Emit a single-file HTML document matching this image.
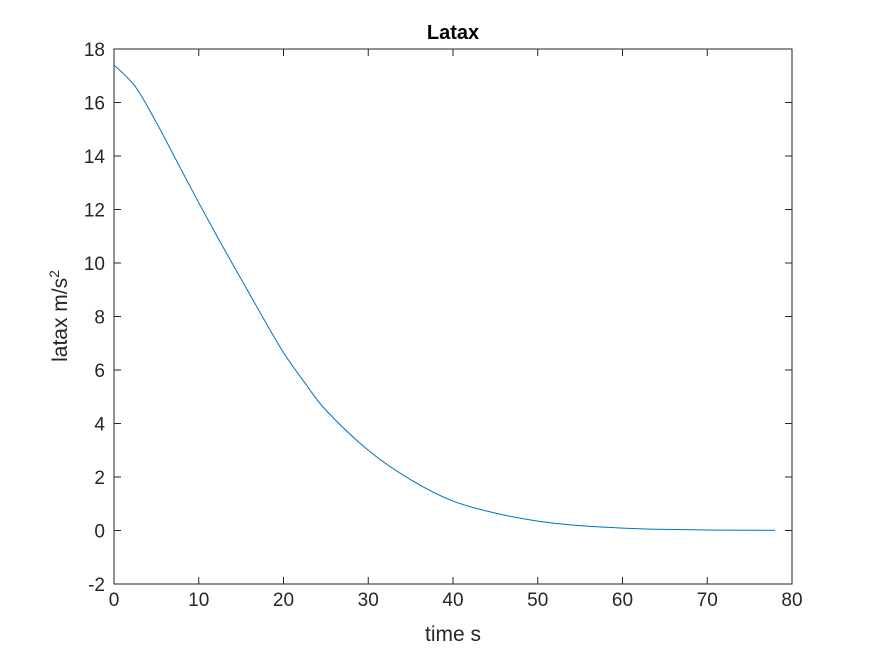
<!DOCTYPE html>
<html><head><meta charset="utf-8"><style>
body{margin:0;background:#fff;}
svg{display:block;font-family:"Liberation Sans","DejaVu Sans",sans-serif;}
</style></head><body>
<svg id="chart" width="875" height="656">
<rect x="0" y="0" width="875" height="656" fill="#fff"/>
<g id="g"></g>
</svg>
<script>
const times=[0,2.5,5,7.5,10,12.5,15,17.5,20,22.5,25,30,35,40,45,50,55,60,65,70,75,78];
const latax=[17.4,16.6,15.25,13.75,12.25,10.8,9.4,8.0,6.65,5.53,4.5,3.0,1.9,1.1,0.65,0.35,0.18,0.09,0.04,0.02,0.01,0.005];
const xTicks=[0,10,20,30,40,50,60,70,80];
const yTicks=[-2,0,2,4,6,8,10,12,14,16,18];
const L=114,R=792,T=49,B=584;
const sx=v=>L+(v-0)/(80-0)*(R-L);
const sy=v=>B-(v+2)/(20)*(B-T);
const ns="http://www.w3.org/2000/svg";
const g=document.getElementById('g');
function mk(t,a){const e=document.createElementNS(ns,t);for(const k in a)e.setAttribute(k,a[k]);g.appendChild(e);return e;}
let e=mk('rect',{x:L,y:T,width:R-L,height:B-T,fill:'#fff',stroke:'#262626','stroke-width':1});


xTicks.forEach(v=>{const x=sx(v);
mk('line',{x1:x,x2:x,y1:B,y2:B-7,stroke:'#262626'});
mk('line',{x1:x,x2:x,y1:T,y2:T+7,stroke:'#262626'});
const t=mk('text',{x:x,y:B+22,'text-anchor':'middle','font-size':19,fill:'#262626'});t.textContent=v;


});
yTicks.forEach(v=>{const y=sy(v);
mk('line',{x1:L,x2:L+7,y1:y,y2:y,stroke:'#262626'});
mk('line',{x1:R,x2:R-7,y1:y,y2:y,stroke:'#262626'});
const t=mk('text',{x:L-9,y:y+7,'text-anchor':'end','font-size':19,fill:'#262626'});t.textContent=v;


});
const pts=times.map((t,i)=>[sx(t),sy(latax[i])]);
let d='M'+pts[0][0]+','+pts[0][1];
for(let i=0;i<pts.length-1;i++){
 const p0=pts[Math.max(0,i-1)],p1=pts[i],p2=pts[i+1],p3=pts[Math.min(pts.length-1,i+2)];
 const c1=[p1[0]+(p2[0]-p0[0])/6,p1[1]+(p2[1]-p0[1])/6];
 const c2=[p2[0]-(p3[0]-p1[0])/6,p2[1]-(p3[1]-p1[1])/6];
 d+=' C'+c1[0]+','+c1[1]+' '+c2[0]+','+c2[1]+' '+p2[0]+','+p2[1];
}
const p=mk('path',{d:d,fill:'none',stroke:'#0072BD','stroke-width':1});


</script>
<svg style="position:absolute;left:0;top:0" width="875" height="656">
<text x="453" y="39" text-anchor="middle" font-size="20" font-weight="bold" fill="#000" font-family="Liberation Sans, sans-serif">Latax</text>
<text x="453" y="641" text-anchor="middle" font-size="21" fill="#262626" font-family="Liberation Sans, sans-serif">time s</text>
<text transform="translate(67,316) rotate(-90)" text-anchor="middle" font-size="21" fill="#262626" font-family="Liberation Sans, sans-serif">latax m/s<tspan font-size="14" dy="-8">2</tspan></text>
</svg>
</body></html>
